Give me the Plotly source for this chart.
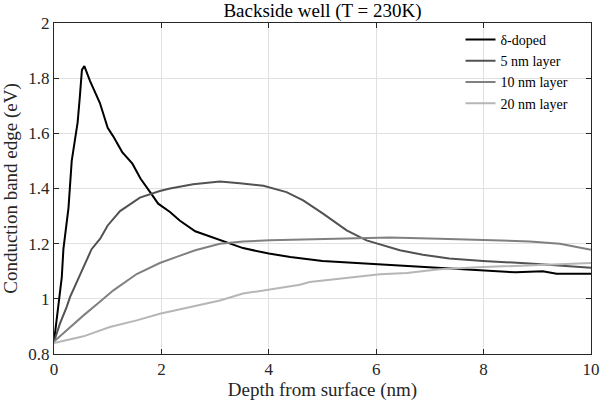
import plotly.graph_objects as go

# ---- data ----
delta_x = [0, 0.145, 0.175, 0.22, 0.27, 0.33, 0.39, 0.44, 0.48, 0.52, 0.565, 0.67, 0.855, 1.0, 1.1,
           1.27, 1.46, 1.61, 1.79, 1.94, 2.16, 2.34, 2.63, 3.09, 3.52, 4.0, 4.4, 5.0, 6.0, 7.0,
           8.0, 8.6, 9.1, 9.36, 10.0]
delta_y = [0.845, 1.079, 1.18, 1.25, 1.33, 1.50, 1.58, 1.64, 1.73, 1.83, 1.844, 1.79, 1.71, 1.62, 1.59,
           1.532, 1.49, 1.436, 1.387, 1.345, 1.315, 1.284, 1.245, 1.212, 1.184, 1.164, 1.152, 1.137, 1.125, 1.115,
           1.103, 1.096, 1.10, 1.091, 1.091]

nm5_x = [0, 0.11, 0.235, 0.30, 0.48, 0.70, 0.86, 0.95, 1.0, 1.23, 1.6, 1.97, 2.16, 2.59, 3.09, 3.46,
         3.9, 4.33, 4.64, 5.01, 5.45, 5.82, 6.44, 6.87, 7.36, 7.99, 8.86, 10.0]
nm5_y = [0.845, 0.91, 0.97, 1.007, 1.085, 1.18, 1.218, 1.25, 1.266, 1.318, 1.367, 1.391, 1.40, 1.415, 1.425, 1.419,
         1.41, 1.387, 1.357, 1.309, 1.248, 1.212, 1.176, 1.16, 1.146, 1.137, 1.128, 1.113]

nm10_x = [0, 0.30, 0.55, 0.86, 1.10, 1.54, 1.97, 2.31, 2.63, 3.09, 3.52, 4.02, 4.58, 5.32, 6.25, 7.18,
          7.99, 8.86, 9.42, 10.0]
nm10_y = [0.845, 0.898, 0.94, 0.99, 1.03, 1.09, 1.13, 1.154, 1.176, 1.20, 1.208, 1.212, 1.214, 1.218, 1.222, 1.218,
          1.214, 1.208, 1.20, 1.178]

nm20_x = [0, 0.55, 1.04, 1.54, 1.97, 2.31, 3.09, 3.52, 4.02, 4.58, 4.76, 5.32, 5.63, 6.07, 6.57, 7.18,
          7.99, 8.86, 10.0]
nm20_y = [0.84, 0.864, 0.898, 0.922, 0.946, 0.96, 0.994, 1.019, 1.033, 1.051, 1.061, 1.073, 1.079, 1.089, 1.094, 1.107,
          1.115, 1.121, 1.13]

series_names = ["\u03b4-doped", "5 nm layer", "10 nm layer", "20 nm layer"]
series_colors = ["#000000", "#525252", "#808080", "#b6b6b6"]

x_ticks = [0, 2, 4, 6, 8, 10]
y_ticks = [0.8, 1.0, 1.2, 1.4, 1.6, 1.8, 2.0]
y_tick_labels = ["0.8", "1", "1.2", "1.4", "1.6", "1.8", "2"]

FONT = "Liberation Serif"

fig = go.Figure()
for xs, ys, name, col in zip([delta_x, nm5_x, nm10_x, nm20_x],
                              [delta_y, nm5_y, nm10_y, nm20_y],
                              series_names, series_colors):
    fig.add_trace(go.Scatter(x=xs, y=ys, mode="lines", name=name,
                             line=dict(color=col, width=2)))

axis_common = dict(showline=True, linecolor="#262626", linewidth=1, mirror="ticks",
                   ticks="inside", ticklen=5, tickcolor="#262626", automargin=False,
                   showgrid=True, gridcolor="#e0e0e0", gridwidth=1, zeroline=False,
                   tickfont=dict(family=FONT, size=17, color="#262626"))

fig.update_layout(
    width=602, height=406,
    margin=dict(l=54, r=11, t=23, b=52, autoexpand=False),
    paper_bgcolor="white", plot_bgcolor="white",
    font=dict(family=FONT, color="#262626"),
    title=dict(text="Backside well (T = 230K)", x=0.5357, xanchor="center",
               yref="container", y=1 - 10 / 406, yanchor="middle",
               font=dict(family=FONT, size=19, color="#000"), automargin=False),
    xaxis=dict(range=[0, 10], tickvals=x_ticks, ticktext=[str(v) for v in x_ticks],
               title=dict(text="Depth from surface (nm)", font=dict(family=FONT, size=19, color="#262626"),
                          standoff=3),
               **axis_common),
    yaxis=dict(range=[0.8, 2.0], tickvals=y_ticks, ticktext=y_tick_labels,
               title=dict(text="Conduction band edge (eV)", font=dict(family=FONT, size=19, color="#262626"),
                          standoff=6),
               **axis_common),
    legend=dict(x=0.757, y=0.997, xanchor="left", yanchor="top", bgcolor="rgba(0,0,0,0)",
                borderwidth=0, font=dict(family=FONT, size=14, color="#000")),
    showlegend=True,
)

fig.write_html("out.html")
